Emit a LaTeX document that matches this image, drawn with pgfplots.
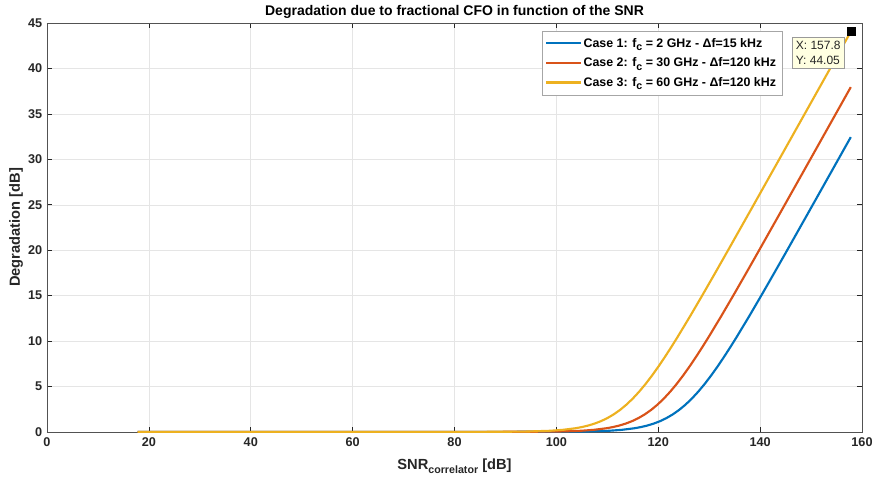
\documentclass[border=0pt]{standalone}
\usepackage{fontspec}
\setmainfont{Liberation Sans}
\usepackage{pgfplots}
\pgfplotsset{compat=1.18}
\definecolor{mblue}{rgb}{0,0.447,0.741}
\definecolor{mred}{rgb}{0.85,0.325,0.098}
\definecolor{myel}{rgb}{0.929,0.694,0.125}
\definecolor{axgray}{rgb}{0.15,0.15,0.15}
\newcommand{\sub}[1]{\raisebox{-0.5ex}{\fontsize{8}{9}\selectfont #1}}
\newcommand{\legline}[1]{\node[inner sep=0pt, anchor=west] at (0pt,0pt) {\textcolor{#1}{\rule[-0.8pt]{26pt}{1.6pt}}};}
\begin{document}
\begin{tikzpicture}
\useasboundingbox (-35.25pt,-35.25pt) rectangle (619.5pt,324pt);
\begin{axis}[
  at={(0,0)}, anchor=south west,
  scale only axis, width=611.25pt, height=306.75pt,
  xmin=0, xmax=160, ymin=0, ymax=45,
  xtick={0,20,...,160}, ytick={0,5,...,45},
  grid=major, major grid style={gray!20, line width=0.4pt},
  axis line style={axgray!80, line width=0.5pt},
  tick style={axgray, line width=0.5pt},
  tick align=inside, major tick length=4pt,
  /pgf/number format/assume math mode=true,
  tick label style={font=\fontsize{9.5}{11}\selectfont\bfseries, text=axgray},
  xticklabel style={yshift=-1pt},
  title={\bfseries Degradation due to fractional CFO in function of the SNR},
  title style={font=\fontsize{10.5}{12}\selectfont, yshift=-6pt},
  xlabel={\bfseries SNR\sub{correlator} [dB]},
  ylabel={\bfseries Degradation [dB]},
  label style={font=\fontsize{11}{13}\selectfont, text=axgray},
  xlabel style={yshift=-2pt},
  ylabel style={yshift=-3pt},
  legend style={at={(0.903,0.98)}, anchor=north east, font=\fontsize{9.3}{11}\selectfont\bfseries,
    draw=gray!70, row sep=2.5pt, inner xsep=3pt, inner ysep=3pt},
  legend cell align=left,
]
\addplot[color=mblue, line width=1.6pt, legend image code/.code={\legline{mblue}}] coordinates {
(17.8,0) (60,0) (80,0.0001) (105.35,0.043) (110.35,0.135) (112.85,0.238) (115.35,0.414)
(116.6,0.544) (117.85,0.711) (119.1,0.924) (120.35,1.193) (121.6,1.528) (122.85,1.938)
(124.1,2.430) (125.35,3.010) (126.6,3.680) (127.85,4.437) (129.1,5.278) (130.35,6.193)
(131.6,7.174) (132.85,8.211) (134.1,9.294) (135.35,10.414) (137.85,12.737) (140.35,15.135)
(142.85,17.576) (145.35,20.043) (150.35,25.014) (155.35,30.004) (157.8,32.45)
};
\addlegendentry{Case 1: f\sub{c} = 2 GHz - Δf=15 kHz}
\addplot[color=mred, line width=1.6pt, legend image code/.code={\legline{mred}}] coordinates {
(17.8,0) (60,0) (80,0.0005) (99.85,0.043) (104.85,0.135) (107.35,0.238) (109.85,0.414)
(111.1,0.544) (112.35,0.711) (113.6,0.924) (114.85,1.193) (116.1,1.528) (117.35,1.938)
(118.6,2.430) (119.85,3.010) (121.1,3.680) (122.35,4.437) (123.6,5.278) (124.85,6.193)
(126.1,7.174) (127.35,8.211) (128.6,9.294) (129.85,10.414) (132.35,12.737) (134.85,15.135)
(137.35,17.576) (139.85,20.043) (144.85,25.014) (149.85,30.004) (157.8,37.95)
};
\addlegendentry{Case 2: f\sub{c} = 30 GHz - Δf=120 kHz}
\addplot[color=myel, line width=1.6pt, legend image code/.code={\legline{myel}}] coordinates {
(17.8,0) (60,0) (80,0.0018) (93.75,0.043) (98.75,0.135) (101.25,0.238) (103.75,0.414)
(105,0.544) (106.25,0.711) (107.5,0.924) (108.75,1.193) (110,1.528) (111.25,1.938)
(112.5,2.430) (113.75,3.010) (115,3.680) (116.25,4.437) (117.5,5.278) (118.75,6.193)
(120,7.174) (121.25,8.211) (122.5,9.294) (123.75,10.414) (126.25,12.737) (128.75,15.135)
(131.25,17.576) (133.75,20.043) (138.75,25.014) (143.75,30.004) (157.8,44.05)
};
\addlegendentry{Case 3: f\sub{c} = 60 GHz - Δf=120 kHz}
\addplot[black, only marks, mark=square*, mark size=3pt, forget plot] coordinates {(157.8,44.05)}
  node[anchor=north east, xshift=-4.5pt, yshift=-4pt, fill={rgb,255:red,255;green,255;blue,225},
       draw=gray!80, line width=0.4pt, inner sep=3pt, align=left,
       font=\fontsize{9}{11}\selectfont, text=axgray] {X: 157.8\\Y: 44.05};
\end{axis}
\end{tikzpicture}
\end{document}
